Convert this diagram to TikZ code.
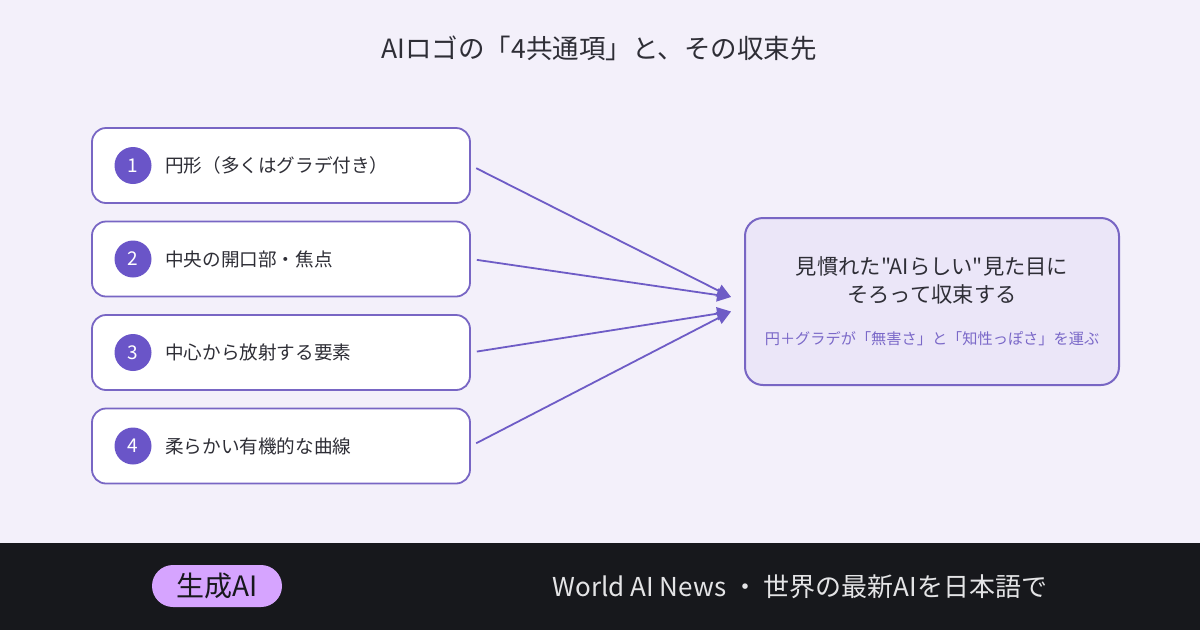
\documentclass[tikz,border=0pt]{standalone}
\usepackage{fontspec}
\setmainfont{Noto Sans CJK JP}
\newfontfamily\jpplain{Noto Sans CJK JP}
\usetikzlibrary{arrows.meta, positioning, calc}
\definecolor{bgpale}{HTML}{F3F0FA}
\definecolor{footdark}{HTML}{17181C}
\definecolor{lavline}{HTML}{7866C4}
\definecolor{numpurple}{HTML}{6A55C8}
\definecolor{arrowpurple}{HTML}{6E5CC6}
\definecolor{goalfill}{HTML}{EBE6F8}
\definecolor{subpurple}{HTML}{7A68C8}
\definecolor{pillviolet}{HTML}{D6A4FF}
\definecolor{inkdark}{HTML}{2E2E36}
\definecolor{footgray}{HTML}{E4E4E6}

\begin{document}
\begin{tikzpicture}[
  x=1pt, y=-1pt,
  >={Triangle[length=14pt, width=13pt]},
  itembox/.style={
    draw=lavline, line width=1.8pt, fill=white, rounded corners=14pt,
    minimum width=378pt, minimum height=75pt, inner sep=0pt
  },
  numdot/.style={
    circle, fill=numpurple, minimum size=37pt, inner sep=0pt,
    text=white, font=\fontsize{19}{19}\selectfont
  },
  itemtext/.style={anchor=west, inner sep=0pt, text=inkdark, font=\fontsize{18.6}{22}\selectfont},
  goalbox/.style={
    draw=lavline, line width=2pt, fill=goalfill, rounded corners=18pt,
    minimum width=374pt, minimum height=167pt, inner sep=0pt
  },
  fanarr/.style={->, line width=1.8pt, arrowpurple, shorten <=6pt},
]

% Background
\useasboundingbox (0,0) rectangle (1200,630);
\fill[bgpale] (0,0) rectangle (1200,543);
\fill[footdark] (0,543) rectangle (1200,630);

% Title
\node[font=\fontsize{26.5}{31}\selectfont, text=inkdark] (title) at (599,48)
  {AIロゴの「4共通項」と、その収束先};

% Four common features (left)
\foreach \i/\yy/\label in {1/165.5/円形（多くはグラデ付き）,
                           2/259/中央の開口部・焦点,
                           3/352.5/中心から放射する要素,
                           4/446/柔らかい有機的な曲線}{
  \node[itembox] (item\i) at (281,\yy) {};
  \node[numdot] (num\i) at (133,\yy) {\i};
  \node[itemtext] (txt\i) at (165,\yy) {\label};
}

% Convergence box (right)
\node[goalbox] (goal) at (932,301.5) {};
\node[font=\jpplain\fontsize{21.3}{28}\selectfont, text=inkdark, align=center] (goaltxt) at (932,280)
  {見慣れた"AIらしい"見た目に\\そろって収束する};
\node[font=\fontsize{15.2}{18}\selectfont, text=subpurple] (goalsub) at (932,339)
  {円＋グラデが「無害さ」と「知性っぽさ」を運ぶ};

% Arrow ends
\coordinate (inA) at ($(goal.west)+(-13,-4.5)$);
\coordinate (inB) at ($(goal.west)+(-13,10)$);

% Fan-in arrows
\draw[fanarr] (item1.east) -- (inA);
\draw[fanarr] (item2.east) -- (inA);
\draw[fanarr] (item3.east) -- (inB);
\draw[fanarr] (item4.east) -- (inB);

% Footer
\node[fill=pillviolet, rounded corners=21pt, minimum width=130pt, minimum height=42pt,
      inner sep=0pt, text=footdark, font=\fontsize{28}{28}\selectfont] (badge) at (217,586)
  {生成AI};
\node[text=footgray, font=\fontsize{26}{30}\selectfont] (tagline) at (800,587)
  {World AI News ・ 世界の最新AIを日本語で};

\end{tikzpicture}
\end{document}
